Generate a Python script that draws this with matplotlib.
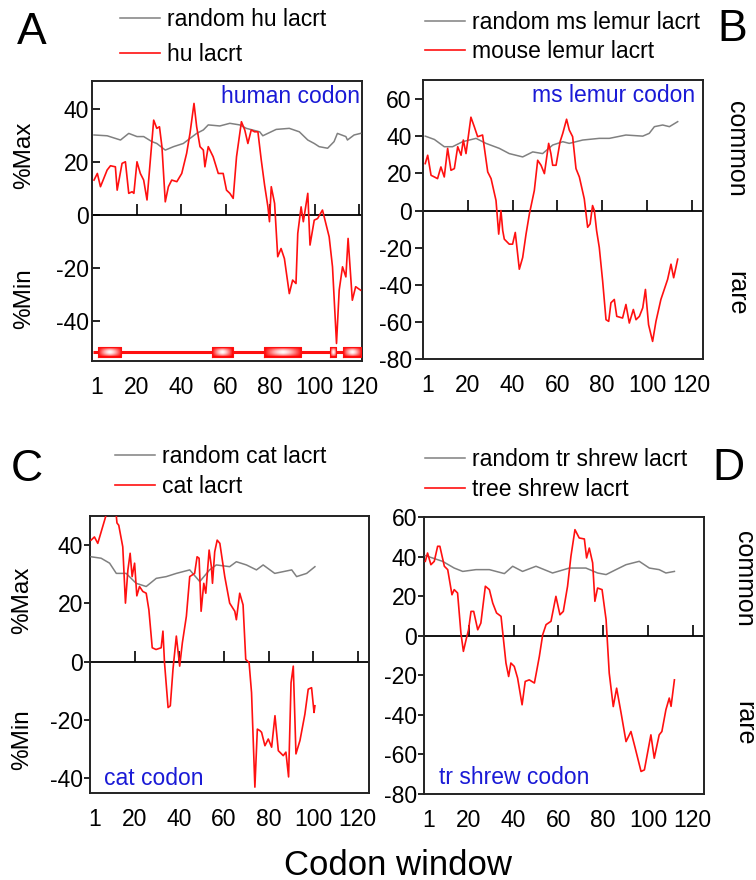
import numpy as np
import matplotlib
matplotlib.use("Agg")
import matplotlib.pyplot as plt
from matplotlib.colors import LinearSegmentedColormap

plt.rcParams['font.family'] = ['Liberation Sans', 'DejaVu Sans']

RED = '#ff1010'
GRAY = '#808080'
BLUE = '#1a1ad6'

# ---- data: panel A (human) ----
a_hu_x = [0.9, 2.4, 3.8, 6.8, 8.3, 10.5, 11.3, 13.5, 15.0, 16.5, 18.0, 18.8, 20.2, 21.7, 23.2,
          24.7, 26.2, 27.7, 29.1, 30.3, 31.4, 32.9, 34.3, 35.8, 38.1, 40.3, 42.5, 44.0, 45.8,
          47.0, 48.5, 50.0, 50.7, 52.2, 54.4, 56.7, 58.9, 60.4, 61.9, 63.4, 64.9, 67.1, 68.6,
          70.0, 71.5, 73.0, 74.5, 76.0, 77.5, 79.0, 79.7, 80.5, 82.0, 83.4, 84.9, 86.4, 88.6,
          90.1, 91.6, 92.4, 93.9, 94.9, 96.9, 97.9, 99.8, 101.3, 103.5, 106.5, 108.0, 109.8,
          111.0, 112.5, 114.0, 115.0, 116.9, 118.4, 120.6]
a_hu_y = [13.2, 15.7, 10.7, 17.0, 18.6, 18.2, 9.4, 19.5, 20.1, 8.2, 8.8, 8.2, 20.1, 15.7, 13.2,
          5.7, 20.8, 35.8, 32.7, 33.3, 25.8, 5.0, 10.7, 13.2, 12.6, 15.7, 23.3, 30.8, 42.1,
          33.3, 25.8, 24.5, 18.2, 25.8, 22.0, 15.7, 15.7, 9.4, 8.2, 6.3, 22.0, 35.2, 32.1,
          27.0, 32.1, 31.4, 31.4, 20.8, 11.3, 3.1, -2.5, 10.7, 4.4, -15.7, -12.6, -16.4, -29.6,
          -24.5, -25.8, -6.9, 3.1, -2.5, 8.2, -11.3, -1.9, -1.3, 1.9, -8.2, -19.5, -48.4,
          -28.3, -19.5, -23.3, -8.8, -32.1, -27.0, -28.3]
a_rand_x = [0.9, 6.8, 12.8, 16.5, 20.2, 23.2, 26.9, 29.1, 32.9, 36.6, 41.0, 44.0, 47.0, 50.0,
            52.2, 57.4, 61.9, 66.3, 69.3, 75.3, 76.7, 82.7, 88.6, 93.1, 96.9, 99.8, 102.0,
            105.8, 108.7, 110.2, 114.0, 114.7, 117.7, 120.6]
a_rand_y = [30.2, 29.9, 28.3, 30.8, 29.6, 29.6, 27.7, 27.0, 24.5, 25.8, 27.0, 28.9, 30.8, 32.1,
            34.0, 33.6, 34.6, 34.0, 32.7, 31.4, 29.9, 32.3, 32.7, 31.4, 28.3, 27.0, 25.8,
            25.2, 27.7, 30.8, 29.6, 28.3, 30.2, 30.8]
# exon boxes of the human gene model
exon_start = [2.6, 54.1, 77.1, 106.8, 112.5]
exon_end = [13.1, 63.3, 93.9, 109.5, 121.0]
gene_span = [0.6, 121.0]
gene_level = -51.7

# ---- panel B (mouse lemur) ----
b_ml_x = [1.0, 2.1, 3.6, 5.1, 6.5, 8.0, 9.5, 11.0, 12.5, 14.0, 15.5, 17.0, 18.0, 19.2, 21.4,
          22.9, 24.4, 26.6, 28.9, 30.4, 32.6, 33.8, 34.8, 35.6, 36.3, 38.5, 40.0, 41.2, 43.0,
          44.5, 46.0, 47.5, 49.7, 51.2, 52.7, 54.2, 56.1, 57.1, 57.9, 59.4, 61.2, 62.4, 64.1,
          65.3, 66.8, 68.3, 69.8, 72.0, 73.5, 74.6, 75.7, 76.5, 77.5, 78.7, 80.2, 81.7, 82.9,
          83.9, 85.4, 86.5, 89.1, 90.6, 92.1, 93.9, 95.1, 96.6, 98.1, 99.3, 100.7, 102.5,
          104.0, 106.2, 107.7, 109.2, 110.7, 111.9, 113.7]
b_ml_y = [25.3, 29.8, 19.0, 18.1, 17.2, 23.5, 18.1, 33.5, 21.7, 22.6, 34.4, 29.8, 38.0, 30.7,
          50.3, 45.2, 39.8, 40.7, 20.8, 17.2, 5.4, -12.7, 0.0, -10.8, -15.4, -18.1, -18.1,
          -11.8, -31.6, -25.3, -12.7, -1.8, 10.8, 27.1, 24.4, 19.9, 36.2, 30.7, 24.4, 24.4,
          37.1, 41.6, 49.2, 43.4, 39.8, 22.6, 18.1, 6.3, -9.0, -7.2, 2.7, 0.0, -10.8, -19.9,
          -38.0, -58.8, -59.7, -49.7, -47.9, -57.0, -57.9, -50.6, -60.6, -53.3, -58.8, -57.0,
          -52.4, -42.5, -61.5, -70.5, -59.7, -47.9, -42.5, -37.1, -28.9, -36.2, -26.2]
b_rand_x = [1.0, 5.1, 9.5, 13.2, 17.7, 23.7, 28.1, 34.1, 38.5, 44.5, 49.0, 53.4, 57.9, 62.4,
            65.3, 71.3, 78.7, 83.2, 90.6, 98.1, 101.0, 103.3, 107.0, 110.0, 113.7]
b_rand_y = [40.1, 38.3, 34.4, 34.4, 37.1, 38.9, 36.2, 33.5, 30.7, 28.9, 31.6, 30.7, 35.3, 37.1,
            36.2, 38.0, 38.9, 38.9, 40.7, 40.1, 41.6, 45.2, 46.1, 45.2, 47.9]

# ---- panel C (cat) ----
c_cat_x = [0.5, 2.0, 3.5, 5.0, 7.0, 8.8, 11.0, 12.1, 12.9, 14.7, 15.9, 17.0, 18.0, 18.9, 20.0,
           21.0, 22.2, 23.7, 25.2, 26.4, 27.9, 29.6, 31.9, 32.7, 33.4, 35.0, 36.0, 37.2, 38.7,
           40.2, 41.4, 43.2, 44.7, 46.9, 48.0, 48.9, 49.8, 51.0, 51.9, 53.4, 54.4, 54.9, 55.9,
           57.0, 58.2, 60.4, 62.6, 64.9, 65.6, 67.1, 68.6, 69.8, 71.3, 72.4, 73.9, 75.0, 76.1,
           76.9, 78.4, 79.9, 81.4, 82.9, 84.4, 86.6, 87.8, 89.0, 90.1, 91.1, 92.3, 94.1, 96.3,
           97.8, 99.3, 100.4, 100.8]
c_cat_y = [41.7, 42.8, 40.6, 44.5, 49.7, 56.5, 56.5, 47.6, 46.8, 39.4, 20.1, 31.5, 37.2, 29.2,
           33.8, 22.6, 25.8, 24.1, 23.5, 17.8, 4.8, 4.2, 4.8, 10.5, -0.3, -15.7, -15.1, -2.6,
           8.8, -1.5, 6.5, 15.6, 29.2, 30.3, 36.0, 35.5, 17.3, 26.9, 23.5, 38.3, 32.6, 26.9,
           37.7, 41.7, 40.6, 29.2, 20.1, 17.3, 14.4, 23.5, 19.5, 0.8, -0.3, -10.6, -43.0, -23.1,
           -23.6, -24.2, -28.8, -26.5, -29.3, -18.5, -30.5, -32.2, -31.0, -39.5, -7.2, -1.5,
           -31.6, -27.0, -18.0, -9.4, -8.9, -17.4, -15.1]
c_rand_x = [0.5, 5.0, 8.8, 11.8, 16.2, 20.7, 25.2, 29.7, 34.2, 38.7, 44.7, 49.2, 53.6, 56.6,
            62.6, 65.6, 70.1, 74.6, 77.6, 82.8, 86.6, 90.4, 92.6, 97.1, 100.8]
c_rand_y = [36.0, 35.5, 33.8, 30.3, 30.3, 26.9, 25.8, 28.6, 29.2, 30.3, 31.5, 27.5, 31.5, 33.2,
            32.6, 34.3, 33.2, 31.5, 33.2, 30.3, 30.9, 31.5, 29.2, 30.3, 32.6]

# ---- panel D (tree shrew) ----
d_ts_x = [0.6, 1.6, 3.1, 4.6, 6.1, 7.1, 9.1, 10.6, 12.5, 13.5, 15.0, 16.5, 17.6, 18.8, 19.9,
          21.0, 22.2, 24.0, 25.4, 27.4, 29.2, 30.7, 32.4, 34.4, 36.6, 37.8, 38.8, 40.3, 41.8,
          43.8, 45.2, 47.0, 49.3, 50.0, 51.5, 53.0, 54.5, 56.7, 58.9, 60.7, 62.2, 64.1, 65.6,
          67.4, 69.3, 71.6, 72.6, 73.8, 75.3, 76.3, 77.5, 79.5, 81.3, 82.7, 84.5, 86.0, 88.0,
          90.2, 92.4, 94.3, 96.9, 98.4, 101.3, 102.8, 105.0, 106.2, 108.0, 109.5, 110.3, 111.8]
d_ts_y = [37.6, 41.8, 35.9, 37.6, 45.2, 45.2, 35.1, 33.4, 20.7, 23.3, 21.6, 1.3, -7.9, -2.0,
          3.0, 12.3, 12.3, 3.0, 6.4, 25.0, 23.3, 16.5, 11.5, 9.8, -13.8, -20.6, -13.8, -15.5,
          -21.4, -34.9, -23.1, -22.3, -23.9, -19.7, -10.5, 0.5, 5.6, 7.3, 19.9, 10.6, 12.3,
          25.0, 40.1, 53.6, 49.4, 48.9, 39.3, 44.3, 36.8, 17.4, 24.1, 23.3, 8.1, -18.9, -35.8,
          -26.5, -39.1, -53.5, -48.4, -56.8, -68.6, -67.8, -50.1, -61.9, -50.1, -48.4, -37.4,
          -31.5, -35.7, -22.3]
d_rand_x = [0.6, 8.3, 13.5, 17.3, 23.2, 29.2, 35.9, 39.6, 44.0, 50.0, 57.4, 64.9, 72.3, 77.5,
            81.3, 85.7, 90.2, 96.1, 100.6, 105.0, 108.0, 111.8]
d_rand_y = [40.5, 37.6, 34.2, 32.5, 33.4, 33.4, 31.4, 35.1, 32.5, 35.1, 31.7, 34.2, 34.2, 31.7,
            30.9, 33.4, 35.9, 37.6, 34.2, 33.4, 31.7, 32.5]

xtick_pos = [2, 20, 40, 60, 80, 100, 120]
xtick_lab = ['1', '20', '40', '60', '80', '100', '120']
zero_marks = [20, 40, 60, 80, 100, 120]

fig = plt.figure(figsize=(7.56, 8.8), dpi=100)


def make_panel(rect, xr, yr, gx, gy, ylim, yticks, xlim, labels, leg_anchor, leg_space,
               tag, tag_xy, note_xy, note_ha, tick_dir):
    ax = fig.add_axes(rect)
    ax.plot(gx, gy, color=GRAY, lw=1.1, label=labels[0], zorder=3)
    ax.plot(xr, yr, color=RED, lw=1.2, label=labels[1], zorder=4)
    ax.axhline(0, color='black', lw=1.3, zorder=2)
    ax.plot(zero_marks, [0] * len(zero_marks), ls='none', marker=2, ms=8, mew=1.2,
            color='black', zorder=2)
    ax.set_xlim(*xlim)
    ax.set_ylim(*ylim)
    ax.set_yticks(yticks)
    ax.set_yticklabels([str(t) for t in yticks])
    ax.set_xticks(xtick_pos)
    ax.set_xticklabels(xtick_lab)
    ax.tick_params(axis='x', length=0, pad=11, labelsize=16.5)
    ax.tick_params(axis='y', direction=tick_dir, length=6, width=1.2, pad=2, labelsize=16.5)
    for s in ax.spines.values():
        s.set_linewidth(1.4)
        s.set_color('#222222')
    ax.legend(loc='upper left', bbox_to_anchor=leg_anchor, frameon=False, fontsize=16.5,
              handlelength=1.75, handletextpad=0.3, borderpad=0, borderaxespad=0,
              labelspacing=leg_space)
    ax.text(note_xy[0], note_xy[1], tag, transform=ax.transAxes, color=BLUE, fontsize=16.5,
            ha=note_ha, va='center')
    fig.text(tag_xy[0], tag_xy[1], tag_xy[2], fontsize=32, ha='center', va='center')
    return ax


axA = make_panel([0.1217, 0.5898, 0.357, 0.318], a_hu_x, a_hu_y, a_rand_x, a_rand_y,
                 (-55, 50.5), [-40, -20, 0, 20, 40], (0, 121.2),
                 ['random hu lacrt', 'hu lacrt'], (0.104, 1.261), 0.52,
                 'human codon', (0.042, 0.963, 'A'), (0.993, 0.946), 'right', 'in')
axB = make_panel([0.5595, 0.592, 0.3704, 0.317], b_ml_x, b_ml_y, b_rand_x, b_rand_y,
                 (-80, 70.3), [-80, -60, -40, -20, 0, 20, 40, 60], (0, 125),
                 ['random ms lemur lacrt', 'mouse lemur lacrt'], (0.007, 1.248), 0.25,
                 'ms lemur codon', (0.969, 0.966, 'B'), (0.971, 0.946), 'right', 'out')
axC = make_panel([0.119, 0.0989, 0.369, 0.3148], c_cat_x, c_cat_y, c_rand_x, c_rand_y,
                 (-45, 50), [-40, -20, 0, 20, 40], (0, 125),
                 ['random cat lacrt', 'cat lacrt'], (0.09, 1.255), 0.3,
                 'cat codon', (0.036, 0.466, 'C'), (0.05, 0.054), 'left', 'out')
axD = make_panel([0.5608, 0.0977, 0.3704, 0.3148], d_ts_x, d_ts_y, d_rand_x, d_rand_y,
                 (-80, 60), [-80, -60, -40, -20, 0, 20, 40, 60], (0, 125),
                 ['random tr shrew lacrt', 'tree shrew lacrt'], (0.004, 1.248), 0.3,
                 'tr shrew codon', (0.964, 0.468, 'D'), (0.054, 0.058), 'left', 'out')
for ax in (axC, axD):
    ax.tick_params(axis='y', length=4, pad=1)

# gene model under panel A
axA.plot(gene_span, [gene_level, gene_level], color=RED, lw=2.2, zorder=4,
         solid_capstyle='butt')
gmap = LinearSegmentedColormap.from_list('exon', ['#ff0000', '#ff8080', '#ffffff'])
u = np.linspace(-1, 1, 60)
v = np.linspace(-1, 1, 12)
U, V = np.meshgrid(u, v)
shade = (1 - np.abs(U) ** 1.5) * (1 - np.abs(V) ** 2)
for s0, s1 in zip(exon_start, exon_end):
    axA.imshow(shade, cmap=gmap, extent=(s0, s1, gene_level - 1.8, gene_level + 1.8),
               aspect='auto', zorder=5, vmin=0, vmax=1, interpolation='bilinear')
    axA.plot([s0, s1, s1, s0, s0], [gene_level - 1.8, gene_level - 1.8, gene_level + 1.8,
                                    gene_level + 1.8, gene_level - 1.8],
             color=RED, lw=0.8, zorder=6)

# side labels
fig.text(0.032, 0.823, '%Max', rotation=90, fontsize=17.5, ha='center', va='center')
fig.text(0.032, 0.661, '%Min', rotation=90, fontsize=17.5, ha='center', va='center')
fig.text(0.029, 0.318, '%Max', rotation=90, fontsize=17.5, ha='center', va='center')
fig.text(0.029, 0.159, '%Min', rotation=90, fontsize=17.5, ha='center', va='center')
fig.text(0.9735, 0.831, 'common', rotation=-90, fontsize=18, ha='center', va='center')
fig.text(0.9735, 0.667, 'rare', rotation=-90, fontsize=18, ha='center', va='center')
fig.text(0.984, 0.342, 'common', rotation=-90, fontsize=18, ha='center', va='center')
fig.text(0.984, 0.178, 'rare', rotation=-90, fontsize=18, ha='center', va='center')
fig.text(0.527, 0.017, 'Codon window', fontsize=25, ha='center', va='center')

fig.savefig('out.png', dpi=100)
